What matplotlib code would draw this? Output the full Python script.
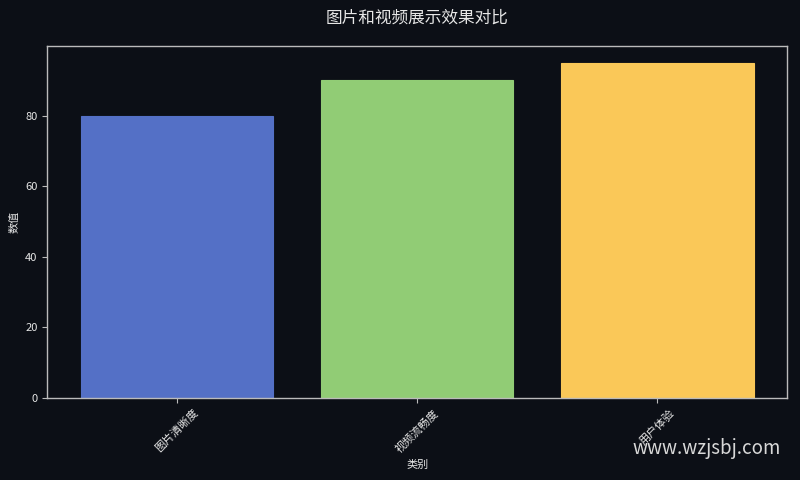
import matplotlib
matplotlib.use("Agg")
import matplotlib.pyplot as plt

plt.rcParams['font.family'] = ['Noto Sans CJK SC', 'DejaVu Sans']

categories = ['图片清晰度', '视频流畅度', '用户体验']
values = [80, 90, 95]
colors = ['#5470c6', '#91cc75', '#fac858']
title = '图片和视频展示效果对比'

bg = '#0c0f16'
fg = '#e6e6e6'

fig = plt.figure(figsize=(8, 4.8), dpi=100, facecolor=bg)
ax = fig.add_axes([0.059, 0.171, 0.925, 0.733], facecolor=bg)
ax.bar(categories, values, color=colors, width=0.8, edgecolor=colors, linewidth=0.8)

for s in ax.spines.values():
    s.set_color('#bbbbbb')
    s.set_linewidth(1.0)
ax.tick_params(axis='x', colors='#bbbbbb', labelcolor=fg, labelsize=8, length=3.5)
ax.tick_params(axis='y', colors='#bbbbbb', labelcolor=fg, labelsize=8, length=3.5)
plt.setp(ax.get_xticklabels(), rotation=45)
ax.set_xlabel('类别', color=fg, fontsize=8)
ax.set_ylabel('数值', color=fg, fontsize=8)
fig.text(0.521, 0.9625, title, color=fg, fontsize=12, ha='center', va='center')

fig.text(0.976, 0.066, 'www.wzjsbj.com', color='#d8d8d8', fontsize=13.5,
         ha='right', va='center')

fig.savefig('out.png', dpi=100, facecolor=bg)
